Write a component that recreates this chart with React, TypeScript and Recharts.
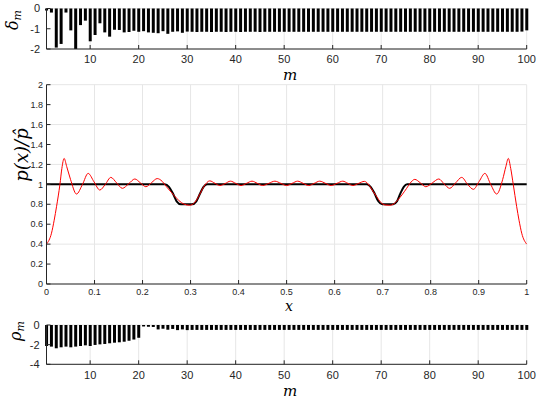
import { BarChart, Bar, LineChart, Line, XAxis, YAxis, CartesianGrid } from "recharts";

// bar panels: m = 1..100
const M_TICKS = [10, 20, 30, 40, 50, 60, 70, 80, 90, 100];

const DELTA = [
  -0.1, -0.2, -1.93, -1.75, -0.2, -1.08, -2.0, -0.82, -0.6, -1.62,
  -1.31, -0.73, -1.18, -1.39, -1.05, -1.06, -1.18, -1.16, -1.1, -1.15,
  -1.12, -1.18, -1.2, -1.22, -1.12, -1.25, -1.15, -1.13, -1.2, -1.14,
  -1.15, -1.16, -1.15, -1.15, -1.16, -1.15, -1.15, -1.16, -1.15, -1.15,
  -1.16, -1.15, -1.15, -1.15, -1.16, -1.15, -1.15, -1.15, -1.15, -1.15,
  -1.15, -1.15, -1.15, -1.15, -1.15, -1.15, -1.15, -1.15, -1.15, -1.15,
  -1.15, -1.15, -1.15, -1.15, -1.15, -1.15, -1.15, -1.15, -1.15, -1.15,
  -1.15, -1.15, -1.15, -1.15, -1.15, -1.15, -1.15, -1.15, -1.15, -1.15,
  -1.15, -1.15, -1.15, -1.15, -1.15, -1.15, -1.15, -1.15, -1.15, -1.15,
  -1.15, -1.15, -1.15, -1.15, -1.15, -1.15, -1.15, -1.15, -1.14, -1.08,
];

const RHO = [
  -2.14, -2.2, -2.37, -2.27, -2.2, -2.27, -2.2, -2.14, -2.07, -2.14,
  -2.03, -1.97, -1.93, -1.86, -1.8, -1.76, -1.7, -1.6, -1.48, -1.3,
  -0.15, -0.18, -0.2, -0.45, -0.38, -0.48, -0.4, -0.52, -0.45, -0.52,
  -0.5, -0.5, -0.5, -0.5, -0.5, -0.5, -0.5, -0.5, -0.5, -0.5,
  -0.5, -0.5, -0.5, -0.5, -0.5, -0.5, -0.5, -0.5, -0.5, -0.5,
  -0.5, -0.5, -0.5, -0.5, -0.5, -0.5, -0.5, -0.5, -0.5, -0.5,
  -0.5, -0.5, -0.5, -0.5, -0.5, -0.5, -0.5, -0.5, -0.5, -0.5,
  -0.5, -0.5, -0.5, -0.5, -0.5, -0.5, -0.5, -0.5, -0.5, -0.5,
  -0.5, -0.5, -0.5, -0.5, -0.5, -0.5, -0.5, -0.5, -0.5, -0.5,
  -0.5, -0.5, -0.5, -0.5, -0.5, -0.5, -0.5, -0.5, -0.5, -0.5,
];

// middle panel
const X_TICKS = [0, 0.1, 0.2, 0.3, 0.4, 0.5, 0.6, 0.7, 0.8, 0.9, 1];
const P_TICKS = [0, 0.2, 0.4, 0.6, 0.8, 1, 1.2, 1.4, 1.6, 1.8, 2];

const BLACK_X = [0, 0.246, 0.255, 0.263, 0.271, 0.28, 0.303, 0.312, 0.32, 0.327, 0.335,
  0.667, 0.675, 0.683, 0.691, 0.699, 0.722, 0.73, 0.737, 0.744, 0.751, 1];
const BLACK_Y = [1, 1, 0.975, 0.91, 0.83, 0.8, 0.8, 0.83, 0.91, 0.975, 1,
  1, 0.975, 0.91, 0.83, 0.8, 0.8, 0.83, 0.91, 0.975, 1, 1];

const RED_X = [
  0, 0.0104, 0.016, 0.021, 0.028, 0.032, 0.0367, 0.042, 0.05, 0.0625,
  0.075, 0.0867, 0.099, 0.111, 0.1225, 0.134, 0.146, 0.158, 0.171, 0.184,
  0.1955, 0.207, 0.219, 0.2305, 0.241, 0.25, 0.26, 0.271, 0.285, 0.298,
  0.309, 0.319, 0.328, 0.34, 0.351, 0.361, 0.372, 0.383, 0.394, 0.405,
  0.4165, 0.428, 0.439, 0.45, 0.4628, 0.4756, 0.488, 0.5, 0.5115, 0.523,
  0.5345, 0.546, 0.5575, 0.569, 0.581, 0.593, 0.605, 0.617, 0.6275, 0.638,
  0.65, 0.662, 0.672, 0.68, 0.6875, 0.696, 0.705, 0.715, 0.722, 0.731,
  0.74, 0.75, 0.757, 0.767, 0.7785, 0.79, 0.8035, 0.817, 0.828, 0.8396,
  0.852, 0.8646, 0.877, 0.889, 0.901, 0.913, 0.925, 0.9375, 0.95, 0.9567,
  0.9617, 0.9667, 0.972, 0.979, 0.984, 0.9896, 1,
];
const RED_Y = [
  0.4, 0.51, 0.64, 0.78, 1.0, 1.16, 1.26, 1.18, 1.05, 0.903,
  1.0, 1.11, 1.025, 0.943, 1.0, 1.07, 1.015, 0.96, 1.005, 1.054,
  1.015, 0.976, 1.018, 1.058, 1.03, 0.975, 0.92, 0.86, 0.805, 0.79,
  0.82, 0.9, 0.98, 1.035, 1.01, 0.988, 1.008, 1.032, 1.01, 0.988,
  1.01, 1.032, 1.01, 0.988, 1.01, 1.032, 1.01, 0.988, 1.01, 1.032,
  1.01, 0.988, 1.01, 1.032, 1.01, 0.988, 1.01, 1.032, 1.01, 0.988,
  1.01, 1.03, 0.99, 0.93, 0.877, 0.82, 0.793, 0.79, 0.8, 0.84,
  0.893, 0.96, 1.01, 1.05, 1.015, 0.976, 1.015, 1.054, 1.005, 0.96,
  1.015, 1.07, 1.0, 0.95, 1.03, 1.11, 1.0, 0.903, 1.05, 1.18,
  1.26, 1.16, 1.0, 0.78, 0.64, 0.51, 0.4,
];

const AXIS = "#262626";
const GRID = "#e6e6e6";
const SANS = "'Liberation Sans', Arial, sans-serif";
const MATH = "'DejaVu Serif', serif";
const W = 539;

const deltaData = DELTA.map((v, i) => ({ m: i + 1, v }));
const rhoData = RHO.map((v, i) => ({ m: i + 1, v }));
const blackData = BLACK_X.map((x, i) => ({ x, y: BLACK_Y[i] }));
const redData = RED_X.map((x, i) => ({ x, y: RED_Y[i] }));

function BarPanel({ data, top, height, margin, yDomain, yTicks, xTickMargin, yTickMargin }: {
  data: { m: number; v: number }[];
  top: number;
  height: number;
  margin: { top: number; right: number; bottom: number; left: number };
  yDomain: [number, number];
  yTicks: number[];
  xTickMargin: number;
  yTickMargin: number;
}) {
  const tick = { fontSize: 11, fill: AXIS, fontFamily: SANS };
  return (
    <div style={{ position: "absolute", left: 0, top }}>
      <BarChart width={W} height={height} data={data} margin={margin}>
        <CartesianGrid stroke={GRID} />
        <XAxis type="number" dataKey="m" domain={[1, 100]} ticks={M_TICKS} tick={tick}
          tickSize={-4} tickMargin={xTickMargin} height={20} stroke={AXIS} />
        <XAxis xAxisId="top" orientation="top" type="number" domain={[1, 100]} ticks={M_TICKS}
          tick={false} tickSize={-4} height={0} stroke={AXIS} />
        <YAxis type="number" domain={yDomain} ticks={yTicks} tick={tick} tickSize={-4}
          tickMargin={yTickMargin} width={40} stroke={AXIS} />
        <YAxis yAxisId="right" orientation="right" type="number" domain={yDomain} ticks={yTicks}
          tick={false} tickSize={-4} width={0} stroke={AXIS} />
        <Bar dataKey="v" fill="#000" barSize={3} isAnimationActive={false} />
      </BarChart>
    </div>
  );
}

export default function App() {
  const smallTick = { fontSize: 9, fill: AXIS, fontFamily: SANS };
  return (
    <div style={{ position: "absolute", left: 0, top: 0, width: W, height: 405, background: "#fff" }}>
      <BarPanel data={deltaData} top={0} height={80}
        margin={{ top: 8.5, right: 12.3, bottom: 11, left: 6.5 }}
        yDomain={[-2, 0]} yTicks={[-2, -1, 0]} xTickMargin={10} yTickMargin={10.5} />

      <div style={{ position: "absolute", left: 0, top: 80 }}>
        <LineChart width={W} height={240} margin={{ top: 4.7, right: 12.3, bottom: 16, left: 6.5 }}>
          <CartesianGrid stroke={GRID} />
          <XAxis type="number" dataKey="x" domain={[0, 1]} ticks={X_TICKS} tick={smallTick}
            tickSize={-4} tickMargin={9} height={20} stroke={AXIS} />
          <XAxis xAxisId="top" orientation="top" type="number" domain={[0, 1]} ticks={X_TICKS}
            tick={false} tickSize={-4} height={0} stroke={AXIS} />
          <YAxis type="number" domain={[0, 2]} ticks={P_TICKS} tick={smallTick} tickSize={-4}
            tickMargin={7.5} width={40} stroke={AXIS} />
          <YAxis yAxisId="right" orientation="right" type="number" domain={[0, 2]} ticks={P_TICKS}
            tick={false} tickSize={-4} width={0} stroke={AXIS} />
          <Line data={blackData} dataKey="y" type="monotone" stroke="#000" strokeWidth={2}
            dot={false} isAnimationActive={false} />
          <Line data={redData} dataKey="y" type="monotone" stroke="#ff0000" strokeWidth={1}
            dot={false} isAnimationActive={false} />
        </LineChart>
      </div>

      <BarPanel data={rhoData} top={310} height={95}
        margin={{ top: 15, right: 12.3, bottom: 20.7, left: 6.5 }}
        yDomain={[-4, 0]} yTicks={[-4, -2, 0]} xTickMargin={10.5} yTickMargin={11} />

      {/* axis titles */}
      <svg width={W} height={405} style={{ position: "absolute", left: 0, top: 0, pointerEvents: "none" }}>
        <g fontFamily={MATH} fontStyle="italic" fill="#000">
          <text x={290} y={80} fontSize={15} textAnchor="middle">m</text>
          <text x={289} y={311} fontSize={14} textAnchor="middle">x</text>
          <text x={290} y={396} fontSize={15} textAnchor="middle">m</text>
          <text transform="translate(18, 20) rotate(-90)" fontSize={16} textAnchor="middle">
            δ<tspan fontSize={11} dy={3}>m</tspan>
          </text>
          <text transform="translate(28, 155) rotate(-90)" fontSize={18} textAnchor="middle">
            p(x)/p̂
          </text>
          <text transform="translate(21, 331) rotate(-90)" fontSize={16} textAnchor="middle">
            ρ<tspan fontSize={11} dy={3}>m</tspan>
          </text>
        </g>
      </svg>
    </div>
  );
}
